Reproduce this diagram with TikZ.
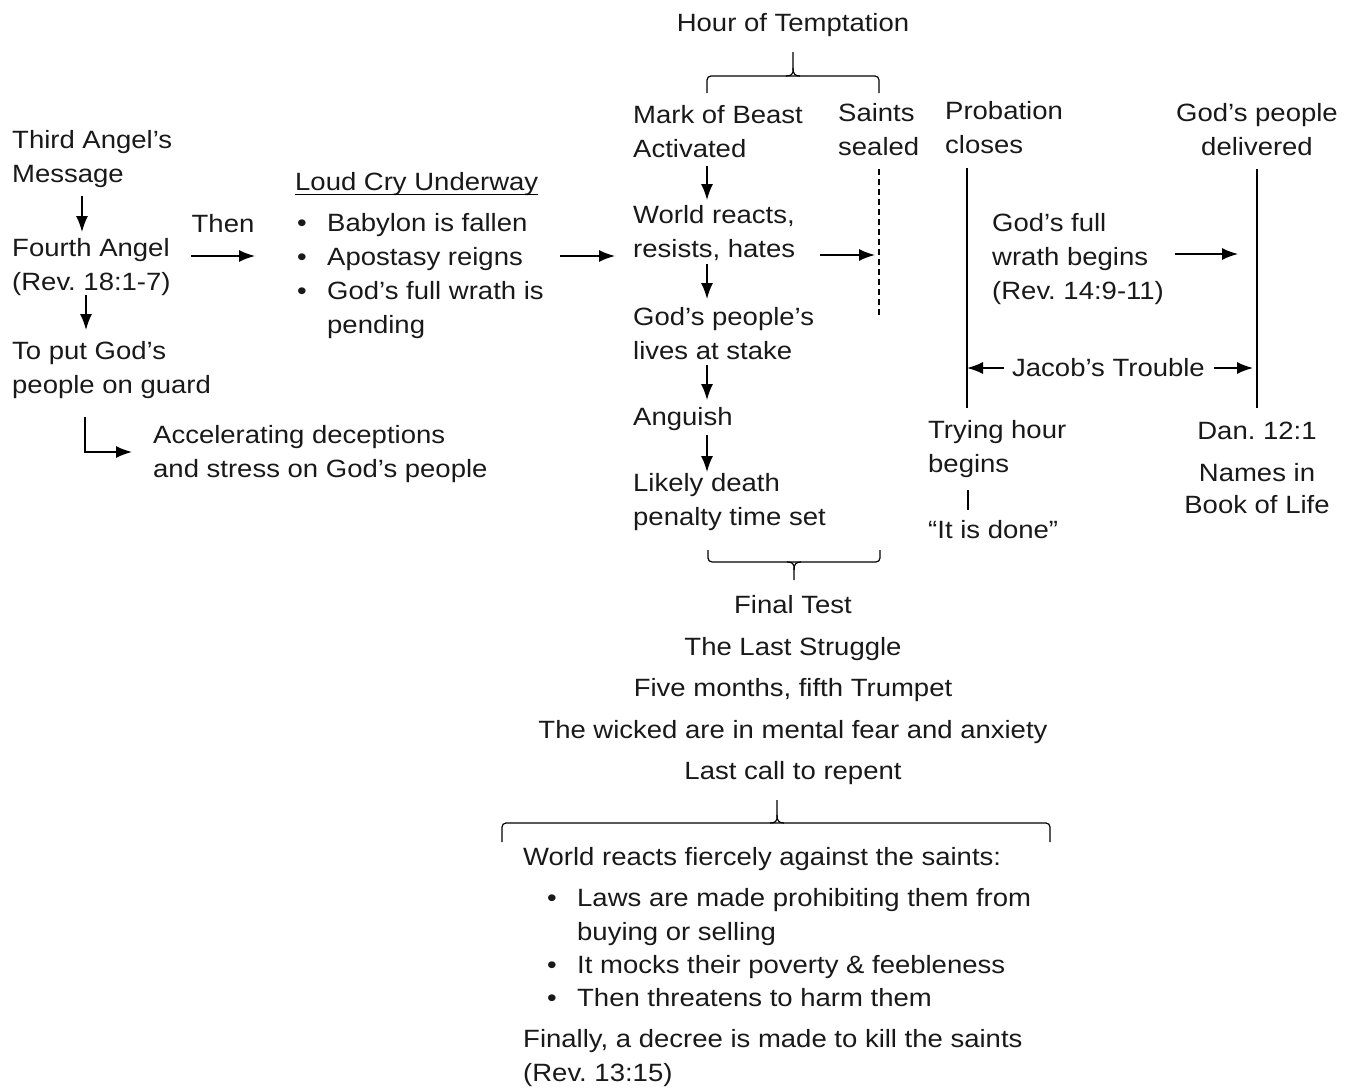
\documentclass[tikz,border=0pt]{standalone}
\usepackage{fontspec}
\setmainfont{Liberation Sans}[FakeStretch=1.1]
\usetikzlibrary{arrows.meta}
\newcommand\bul{\makebox[30pt][l]{\textbullet}}
\frenchspacing

\begin{document}
\begin{tikzpicture}[x=1pt,y=-1pt,
  every node/.style={inner sep=0pt,anchor=north west,align=left,text=black!90,
    font=\fontsize{25}{34}\selectfont},
  arr/.style={line width=1.5pt,-{Latex[length=16pt,width=12pt]}},
  ln/.style={line width=1.3pt},
  brc/.style={line width=1.2pt,rounded corners=4pt}]

  \useasboundingbox (0,0) rectangle (1353,1090);

  % left column
  \node (third) at (12,130.5) {Third Angel's\\Message};
  \node (fourth) at (12,238.5) {Fourth Angel\\(Rev. 18:1-7)};
  \node (guard) at (12,341.5) {To put God's\\people on guard};
  \node (accel) at (153,425.5) {Accelerating deceptions\\and stress on God's people};
  \node (loud) at (295,172.5) {Loud Cry Underway};
  \node (cries) at (297,213.5) {\bul Babylon is fallen\\\bul Apostasy reigns\\\bul God's full wrath is\\\hspace*{30pt}pending};

  % hour of temptation
  \node (hour) [anchor=north] at (793,13.5) {Hour of Temptation};
  \node (mark) at (633,105) {Mark of Beast\\Activated};
  \node (saints) at (838,103.5) {Saints\\sealed};
  \node (world) at (633,205.5) {World reacts,\\resists, hates};
  \node (stake) at (633,307.5) {God's people's\\lives at stake};
  \node (anguish) at (633,407.5) {Anguish};
  \node (likely) at (633,473.5) {Likely death\\penalty time set};

  % probation closed
  \node (probation) at (945,101.5) {Probation\\closes};
  \node (delivered) [anchor=north,align=center] at (1257,103.5) {God's people\\delivered};
  \node (wrath) at (992,213.5) {God's full\\wrath begins\\(Rev. 14:9-11)};
  \node (jacob) [anchor=center] at (1108.5,368) {Jacob's Trouble};
  \node (trying) at (928,420.5) {Trying hour\\begins};
  \node (done) at (928,520.5) {“It is done”};
  \node (dan) [anchor=north] at (1257,421.5) {Dan. 12:1};
  \node (names) [anchor=north,align=center,font=\fontsize{25}{32}\selectfont] at (1257,463.5) {Names in\\Book of Life};

  % final test
  \node (finaltest) [anchor=north,align=center,font=\fontsize{25}{41.5}\selectfont] at (793,595.5)
    {Final Test\\The Last Struggle\\Five months, fifth Trumpet\\The wicked are in mental fear and anxiety\\Last call to repent};
  \node (fierce) at (523,847.5) {World reacts fiercely against the saints:};
  \node (laws) [font=\fontsize{25}{33.3}\selectfont] at (547,888.5)
    {\bul Laws are made prohibiting them from\\\hspace*{30pt}buying or selling\\\bul It mocks their poverty \& feebleness\\\bul Then threatens to harm them};
  \node (finally) at (523,1029.5) {Finally, a decree is made to kill the saints\\(Rev. 13:15)};

  \draw[ln] ([yshift=-4pt]loud.base west) -- ([yshift=-4pt]loud.base east);

  \draw[arr] ([xshift=70pt,yshift=-65.5pt]third.north west) -- ([xshift=70pt,yshift=6.5pt]fourth.north west);
  \draw[arr] ([xshift=74pt,yshift=-56.5pt]fourth.north west) -- ([xshift=74pt,yshift=11.5pt]guard.north west);
  \draw[arr] ([xshift=73pt,yshift=-75.5pt]guard.north west) |- ([xshift=-21pt,yshift=-26.5pt]accel.north west);
  \draw[arr] ([xshift=179pt,yshift=-17.5pt]fourth.north west) -- node[above=23pt,anchor=south] (then) {Then}
    ([xshift=-42pt,yshift=-42.5pt]cries.north west);
  \draw[arr] ([xshift=263pt,yshift=-42.5pt]cries.north west) -- ([xshift=-18pt,yshift=-50.5pt]world.north west);

  \draw[arr] ([xshift=74pt,yshift=-61pt]mark.north west) -- ([xshift=74pt,yshift=5.5pt]world.north west);
  \draw[arr] ([xshift=74pt,yshift=-58.5pt]world.north west) -- ([xshift=74pt,yshift=8.5pt]stake.north west);
  \draw[arr] ([xshift=74pt,yshift=-57.5pt]stake.north west) -- ([xshift=74pt,yshift=7.5pt]anguish.north west);
  \draw[arr] ([xshift=74pt,yshift=-27.5pt]anguish.north west) -- ([xshift=74pt,yshift=1.5pt]likely.north west);

  \coordinate (sealedEnd) at (879,318);
  \draw[ln,dash pattern=on 6pt off 4pt] ([xshift=41pt,yshift=-65.5pt]saints.north west) -- (sealedEnd);
  \draw[arr] ([xshift=187pt,yshift=-49.5pt]world.north west) -- ([xshift=37pt,yshift=-151.5pt]saints.north west);

  \draw[ln] ([xshift=22pt,yshift=-66.5pt]probation.north west) -- ([xshift=39pt,yshift=12.5pt]trying.north west);
  \draw[ln] ([yshift=-65.5pt]delivered.north) -- ([yshift=13.5pt]dan.north);
  \draw[arr] ([xshift=183pt,yshift=-40.5pt]wrath.north west) -- ([xshift=-19pt,yshift=-150.5pt]delivered.north);
  \draw[arr] ([xshift=-8pt]jacob.west) -- ([xshift=22pt,yshift=-266.5pt]probation.north west);
  \draw[arr] ([xshift=9pt]jacob.east) -- ([xshift=-4pt,yshift=-264.5pt]delivered.north);
  \draw[ln] ([xshift=40pt,yshift=-69.5pt]trying.north west) -- ([xshift=40pt,yshift=10.5pt]done.north west);

  % braces
  \draw[brc] (707,93) |- (879,76) -- (879,93);
  \draw[brc] (786,76) .. controls (791,76) and (793,74) .. (793,68) -- (793,52);
  \draw[brc] (800,76) .. controls (795,76) and (793,74) .. (793,68);

  \draw[brc] (708,550) |- (880,562) -- (880,550);
  \draw[brc] (787,562) .. controls (792,562) and (794,564) .. (794,570) -- (794,580);
  \draw[brc] (801,562) .. controls (796,562) and (794,564) .. (794,570);

  \draw[brc] (502,842) |- (1050,823) -- (1050,842);
  \draw[brc] (770,823) .. controls (775,823) and (777,821) .. (777,815) -- (777,800);
  \draw[brc] (784,823) .. controls (779,823) and (777,821) .. (777,815);

\end{tikzpicture}
\end{document}
